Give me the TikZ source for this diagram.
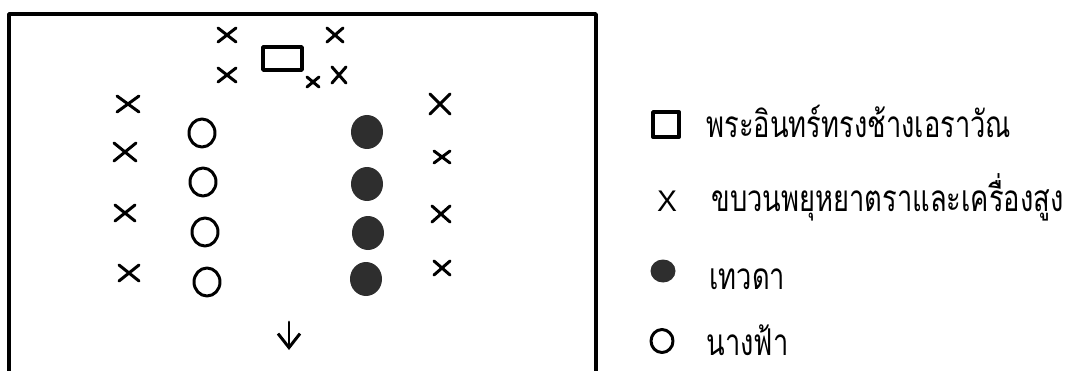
\documentclass[tikz,border=0pt]{standalone}
\usepackage{fontspec}
\usepackage{graphicx}
\setsansfont{Liberation Sans}
\newfontfamily\thaifont[Script=Thai]{Loma}
\usetikzlibrary{arrows.meta}

% testo della legenda, stretto in orizzontale
\newcommand{\stretto}[1]{\scalebox{0.74}[1]{#1}}

\tikzset{
  voce/.style={anchor=base west, inner sep=0pt, font=\thaifont\fontsize{21}{24}\selectfont},
}

\begin{document}
\begin{tikzpicture}[x=0.02cm, y=-0.02cm, line width=1.7pt, line cap=round, line join=round]
    \useasboundingbox (0,0) rectangle (1084,371);

    % Cornice (aperta in basso)
    \draw[line width=2pt] (9,371) -- (9,14) -- (596,14) -- (596,371);

    % Elefante con Indra (rettangolo)
    \draw[line width=2pt] (263,47) rectangle (302,70);

    % Croci: x, y, semiampiezza, semialtezza
    \foreach \x/\y/\w/\h in {227/35/9/7, 335/35/8/7, 227/75/9/7, 339/75/7/8, 313/82/6/5,
                             128/104/11/8, 125/152/11/9, 125/213/10/8, 129/273/10/8,
                             440/104/10/10, 442/157/8/6, 441/214/9/8, 442/268/8/7}
        \draw (\x-\w,\y-\h) -- (\x+\w,\y+\h) (\x-\w,\y+\h) -- (\x+\w,\y-\h);

    % Cerchi vuoti (nang fa)
    \foreach \x/\y in {202/133, 203/182, 205/232, 207/282}
        \draw (\x,\y) ellipse[x radius=13, y radius=14];

    % Cerchi pieni (thewada)
    \foreach \x/\y in {367/132, 367/184, 368/233, 366/279}
        \fill[black!82] (\x,\y) ellipse[x radius=16, y radius=17];

    % Freccia verso il basso
    \coordinate (freccia-a) at (289,322);
    \coordinate (freccia-b) at (289,350);
    \draw[-{Straight Barb[length=0.28cm, width=0.44cm]}] (freccia-a) -- (freccia-b);

    % Legenda
    \draw[line width=2.2pt] (653,112) rectangle (679,137);
    \node[voce] (indra) at (705,138) {\stretto{พระอินทร์ทรงช้างเอราวัณ}};

    \node[inner sep=0pt, font=\sffamily\fontsize{17}{20}\selectfont] (croce) at (667,201) {X};
    \node[voce] (khabuan) at (710,212) {\stretto{ขบวนพยุหยาตราและเครื่องสูง}};

    \fill[black!82] (663,271) ellipse[x radius=12.5, y radius=11.5];
    \node[voce] (thewada) at (708,289) {\stretto{เทวดา}};

    \draw (662,341) ellipse[x radius=11, y radius=11.5];
    \node[voce] (nangfa) at (705,355) {\stretto{นางฟ้า}};
\end{tikzpicture}
\end{document}
